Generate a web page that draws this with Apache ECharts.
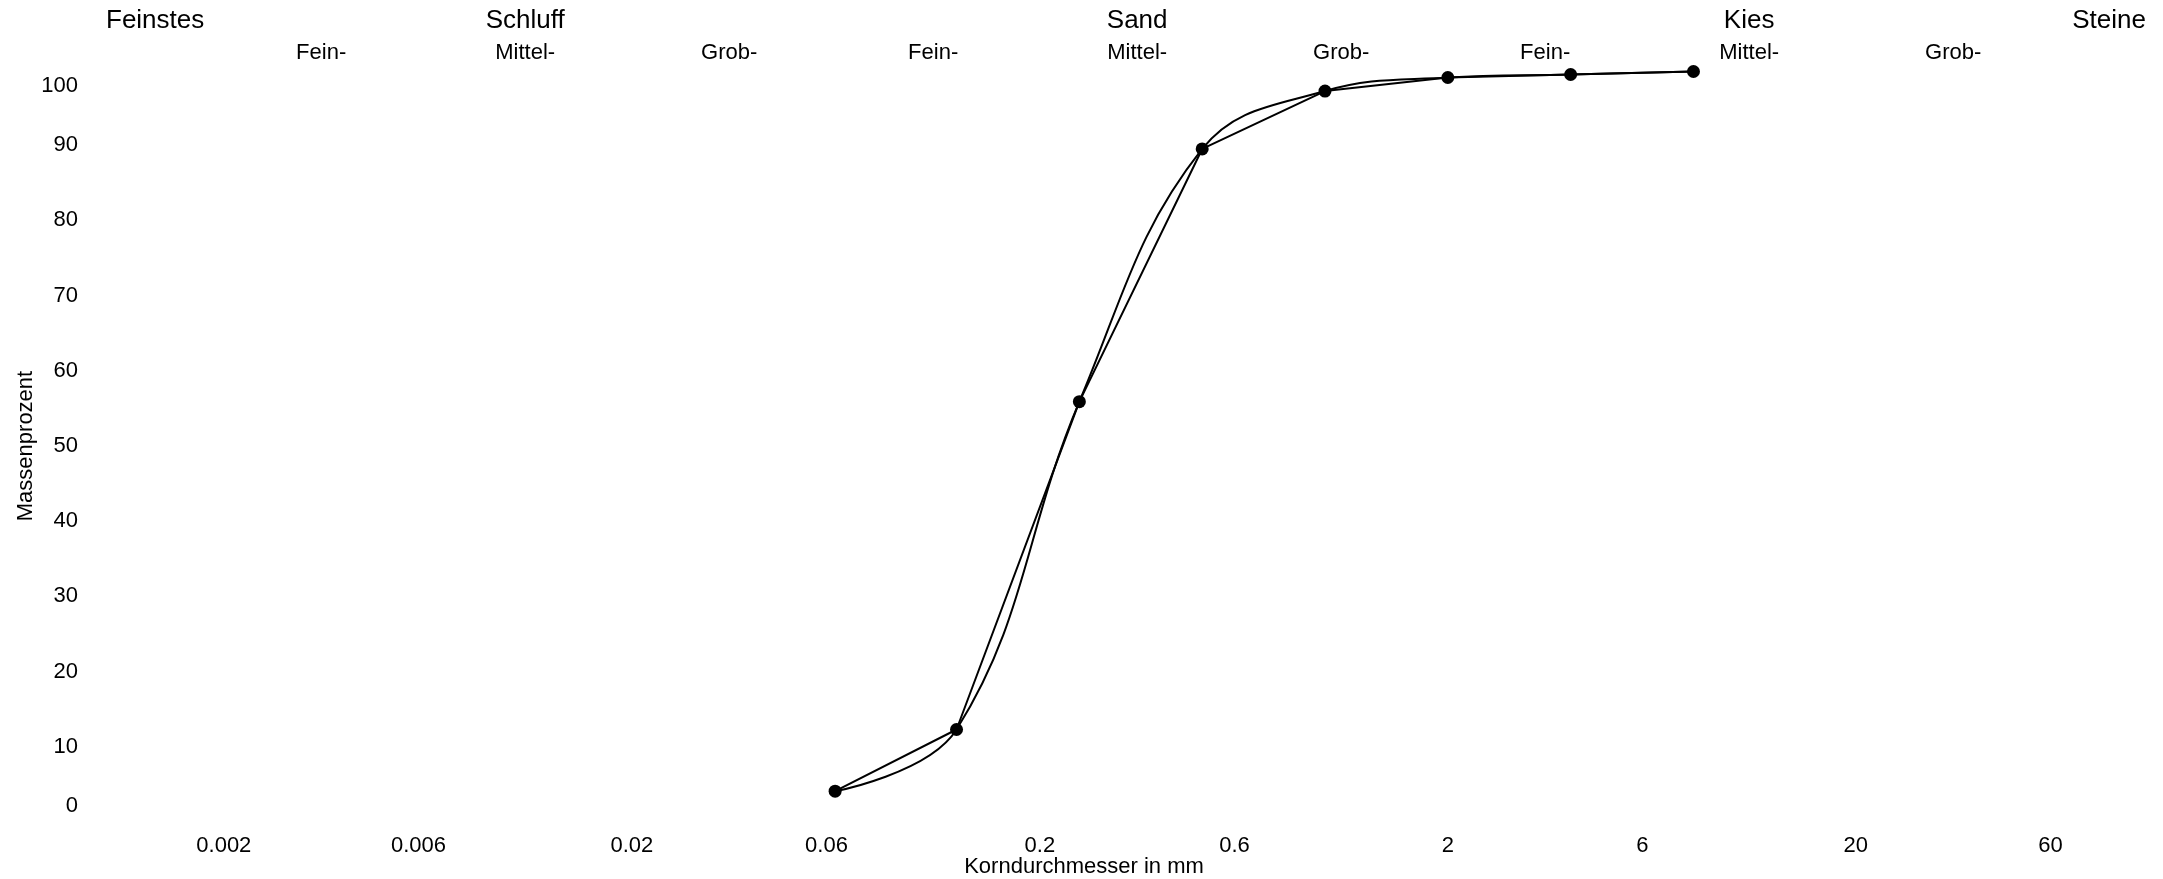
<!DOCTYPE html>
<html>
<head>
<meta charset="utf-8">
<script src="https://cdn.jsdelivr.net/npm/echarts@6/dist/echarts.min.js"></script>
<style>
html,body{margin:0;padding:0;background:#fff;}
#chart{width:2163px;height:879px;}
</style>
</head>
<body>
<div id="chart"></div>
<script>
// ---- data ----
const sieveSizes = [0.063, 0.125, 0.25, 0.5, 1, 2, 4, 8];             // mm
const passingPercent = [4.1, 12.3, 55.9, 89.5, 97.2, 99.0, 99.4, 99.8]; // Massenprozent
const xTickValues = [0.002, 0.006, 0.02, 0.06, 0.2, 0.6, 2, 6, 20, 60];
const xTickLabels = ['0.002', '0.006', '0.02', '0.06', '0.2', '0.6', '2', '6', '20', '60'];
const subFractionLabels = ['Fein-', 'Mittel-', 'Grob-', 'Fein-', 'Mittel-', 'Grob-', 'Fein-', 'Mittel-', 'Grob-'];
const mainFractionLabels = ['Schluff', 'Sand', 'Kies'];
const edgeFractionLabels = ['Feinstes', 'Steine'];
const xMin = 0.001, xMax = 100;
const yTicks = [0, 10, 20, 30, 40, 50, 60, 70, 80, 90, 100];

// ---- derived (log space) ----
const lg = v => Math.log10(v);
const lxMin = lg(xMin), lxMax = lg(xMax);
const tickPos = xTickValues.map(lg);
const subPos = subFractionLabels.map((_, i) => (lg(xTickValues[i]) + lg(xTickValues[i + 1])) / 2);
const mainPos = [subPos[1], subPos[4], subPos[7]];
const edgePos = [lxMin, lxMax];
const pts = sieveSizes.map((d, i) => [lg(d), passingPercent[i]]);

function lookup(vals, labels) {
  return function (value) {
    for (let i = 0; i < vals.length; i++) {
      if (Math.abs(vals[i] - value) < 1e-6) return labels[i];
    }
    return '';
  };
}

const FONT = 'Liberation Sans';
const hidden = { axisLine: { show: false }, axisTick: { show: false }, splitLine: { show: false } };

const chart = echarts.init(document.getElementById('chart'), null, { renderer: 'canvas' });
chart.setOption({
  animation: false,
  backgroundColor: '#fff',
  textStyle: { fontFamily: FONT, color: '#000' },
  grid: [
    { left: 101, right: 22, top: 70, bottom: 57, containLabel: false, outerBoundsMode: 'none' },
    { left: 106, right: 17, top: 70, bottom: 57, containLabel: false, outerBoundsMode: 'none' }
  ],
  xAxis: [
    Object.assign({
      type: 'value', gridIndex: 0, min: lxMin, max: lxMax, position: 'bottom',
      name: 'Korndurchmesser in mm', nameLocation: 'middle', nameGap: 34, nameMoveOverlap: false,
      nameTextStyle: { fontFamily: FONT, fontSize: 22, color: '#000', padding: [0, 74, 0, 0] },
      axisLabel: {
        customValues: tickPos, formatter: lookup(tickPos, xTickLabels),
        fontFamily: FONT, fontSize: 22, color: '#000', margin: 13
      }
    }, hidden),
    Object.assign({
      type: 'value', gridIndex: 0, min: lxMin, max: lxMax, position: 'top', offset: 0,
      axisLabel: {
        customValues: subPos, formatter: lookup(subPos, subFractionLabels),
        fontFamily: FONT, fontSize: 22, color: '#000', margin: 6
      }
    }, hidden),
    Object.assign({
      type: 'value', gridIndex: 0, min: lxMin, max: lxMax, position: 'top', offset: 28,
      axisLabel: {
        customValues: mainPos, formatter: lookup(mainPos, mainFractionLabels),
        fontFamily: FONT, fontSize: 26, color: '#000', margin: 8
      }
    }, hidden),
    Object.assign({
      type: 'value', gridIndex: 1, min: lxMin, max: lxMax, position: 'top', offset: 28,
      axisLabel: {
        customValues: edgePos, formatter: lookup(edgePos, edgeFractionLabels),
        alignMinLabel: 'left', alignMaxLabel: 'right',
        fontFamily: FONT, fontSize: 26, color: '#000', margin: 8
      }
    }, hidden)
  ],
  yAxis: [
    Object.assign({
      type: 'value', gridIndex: 0, min: 0, max: 100, interval: 10,
      name: 'Massenprozent', nameLocation: 'middle', nameGap: 64, nameRotate: 90, nameMoveOverlap: false,
      nameTextStyle: { fontFamily: FONT, fontSize: 22, color: '#000' },
      axisLabel: {
        customValues: yTicks,
        fontFamily: FONT, fontSize: 22, color: '#000', margin: 23, lineHeight: 32,
        verticalAlignMinLabel: 'bottom', verticalAlignMaxLabel: 'top'
      }
    }, hidden),
    Object.assign({
      type: 'value', gridIndex: 1, min: 0, max: 100, axisLabel: { show: false }
    }, hidden)
  ],
  series: [
    {
      type: 'line', xAxisIndex: 0, yAxisIndex: 0, data: pts, smooth: false,
      symbol: 'circle', symbolSize: 13,
      itemStyle: { color: '#000' }, lineStyle: { color: '#000', width: 2 }
    },
    {
      type: 'line', xAxisIndex: 0, yAxisIndex: 0, data: pts, smooth: 0.4,
      symbol: 'none', lineStyle: { color: '#000', width: 2 }
    }
  ]
});
</script>
</body>
</html>
